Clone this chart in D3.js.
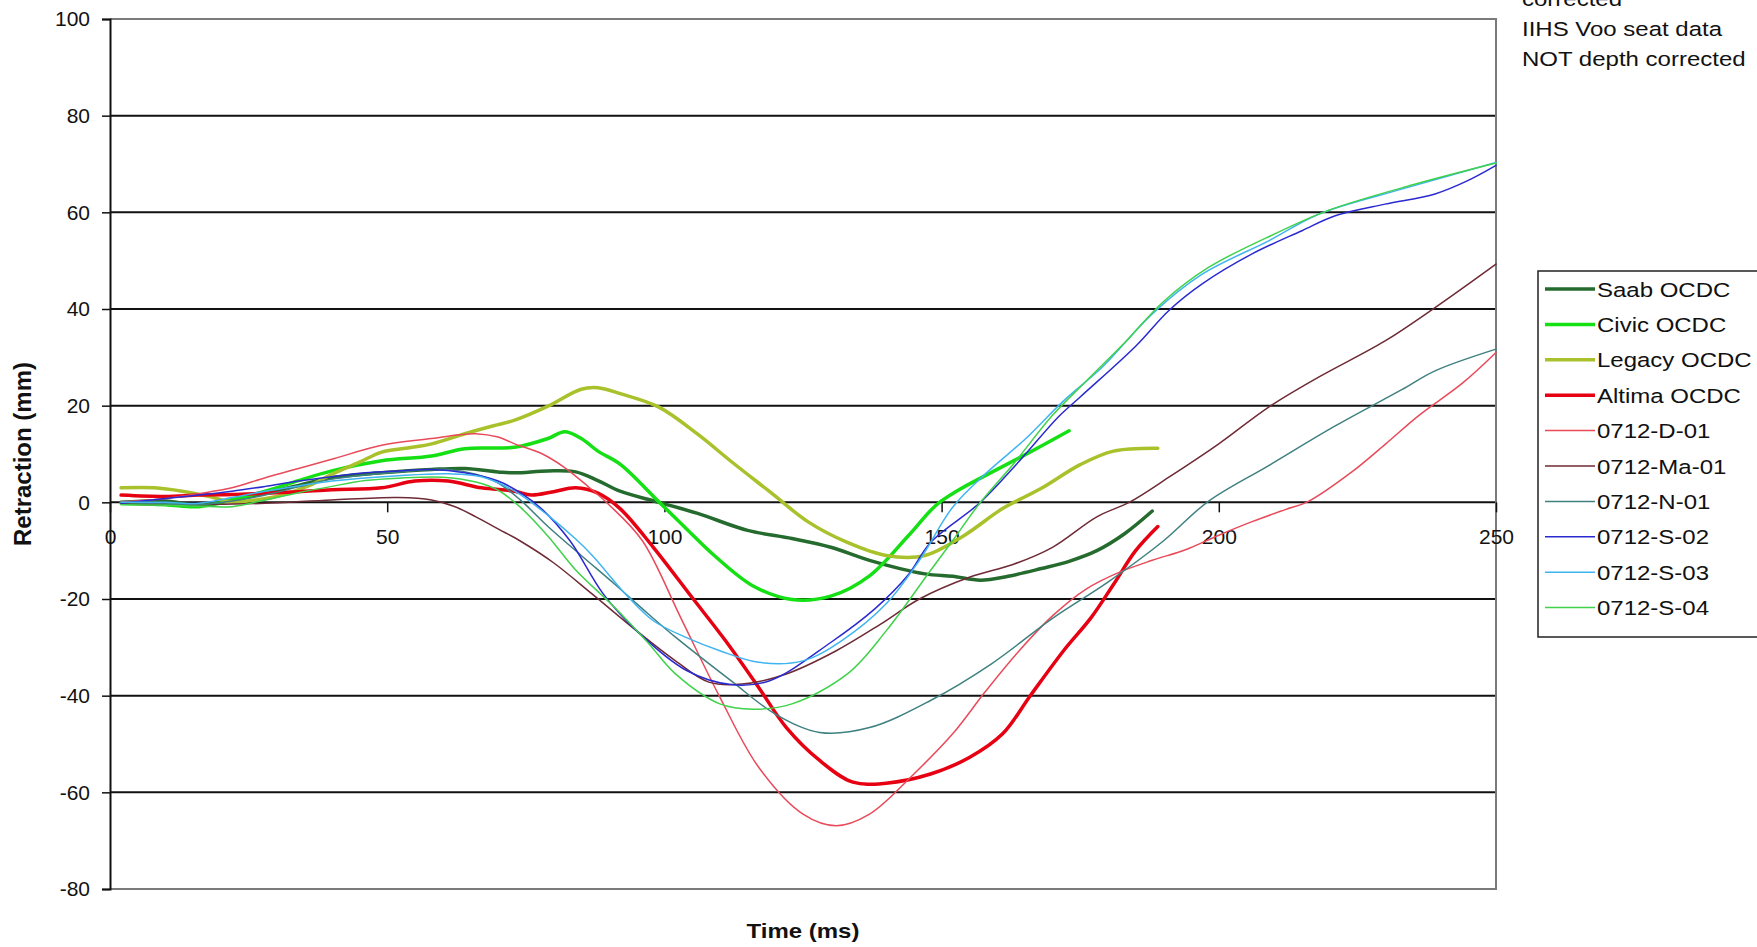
<!DOCTYPE html>
<html>
<head>
<meta charset="utf-8">
<script src="https://cdn.jsdelivr.net/npm/d3@7"></script>
<style>
  body { margin: 0; background: #fff; overflow: hidden; }
  text { font-family: "Liberation Sans", Arial, sans-serif; fill: #111; }
</style>
</head>
<body>
<script>
// ---- data: [time (ms), retraction (mm)] ----
var saabOCDC = [[2,0],[10,0.3],[16,-0.6],[22,0.5],[28,1.9],[34,3.5],[40,5.1],[49,6.1],[58,6.8],[64,7.0],[70,6.3],[73,6.1],[79,6.5],[84,6.3],[88,4.5],[92,2.3],[99,0],[106,-2.3],[115,-5.8],[123,-7.5],[130,-9.3],[137,-12],[147,-14.8],[152,-15.3],[157,-16.1],[162,-15.3],[168,-13.7],[173,-12.2],[178,-10],[183,-6.5],[188,-1.8]];
var civicOCDC = [[2,-0.2],[10,-0.5],[16,-0.9],[22,0.5],[28,2.3],[34,4.5],[40,6.5],[49,8.6],[58,9.6],[64,11.1],[73,11.4],[79,13.2],[82,14.6],[85,13.2],[88,10.6],[92,7.9],[99,0.1],[104,-5.5],[109,-11],[116,-17.3],[123,-20.1],[130,-19.4],[137,-15.2],[144,-6.9],[149,-0.6],[153,2.5],[157,5.0],[164,9.2],[173,14.8]];
var legacyOCDC = [[2,3.0],[8,3.0],[13,2.3],[18,1.2],[22,0.1],[27,0.6],[31,1.5],[36,3.5],[40,5.8],[45,8.3],[49,10.4],[54,11.3],[58,12.1],[64,14.2],[69,15.8],[73,17.0],[79,19.9],[85,23.4],[88,23.7],[92,22.5],[99,19.7],[106,14.1],[112,8.5],[119,2.2],[126,-4.1],[133,-8.3],[140,-11],[147,-11],[154,-6.9],[161,-1.3],[168,2.9],[175,7.8],[181,10.6],[189,11.2]];
var altimaOCDC = [[2,1.5],[10,1.2],[16,1.5],[22,1.6],[28,1.9],[34,2.2],[40,2.6],[49,3.0],[55,4.4],[61,4.4],[67,3.0],[73,2.3],[76,1.5],[80,2.2],[84,3.0],[88,1.9],[92,-1.3],[98,-9.3],[105,-19.7],[111,-28.6],[117,-38.3],[122,-46.6],[128,-53.4],[134,-57.9],[140,-58.1],[148,-56.2],[155,-52.8],[161,-47.9],[166,-40],[172,-30.7],[177,-23.8],[181,-17],[185,-10],[189,-5]];
var d01 = [[2,0.1],[10,0.8],[16,1.8],[22,3.0],[28,5.1],[34,7.0],[40,8.9],[49,11.8],[58,13.2],[63,14.0],[66,14.2],[70,13.5],[73,12.1],[78,10],[82,7.2],[86,3.5],[90,-0.5],[96,-7.9],[103,-24],[110,-40.3],[117,-54.8],[125,-64.5],[131,-66.9],[137,-64.5],[145,-56.2],[152,-47.9],[158,-39],[164,-30.7],[170,-23.5],[176,-18],[182,-14.5],[188,-12],[194,-9.8],[200,-6.8],[206,-4],[212,-1.5],[216,0.1],[224,6.3],[230,12],[236,17.9],[244,24.7],[250,31]];
var ma01 = [[2,-0.3],[10,-0.6],[20,-0.4],[28,-0.2],[40,0.5],[52,1.0],[58,0.5],[62,-0.8],[66,-3],[70,-5.5],[74,-8],[80,-12.5],[87,-19],[95,-26.6],[102,-32.8],[108,-37.2],[114,-37.6],[122,-35.5],[131,-30.7],[139,-25.2],[146,-20],[155,-15.5],[163,-12.8],[170,-9.3],[178,-3],[184,0.1],[191,5.2],[200,12.1],[209,19.7],[218,25.9],[230,33.4],[239,40.3],[250,49.3]];
var n01 = [[2,0],[10,-0.3],[16,-0.5],[22,0.3],[28,1.5],[34,3.2],[40,4.8],[52,6.3],[61,6.8],[66,5.8],[70,4],[74,0.5],[79,-5],[85,-11],[91,-16.9],[97,-23],[102,-27.9],[112,-36.9],[120,-43.8],[128,-47.6],[137,-46.6],[148,-41],[159,-33.4],[170,-24],[180,-16.5],[190,-8],[198,0.1],[209,7.6],[221,15.8],[233,23.3],[239,27.2],[250,31.7]];
var s02 = [[2,-0.2],[10,0.8],[16,1.5],[22,2.3],[28,3.3],[34,4.4],[40,5.3],[46,6.1],[52,6.5],[58,6.8],[64,6.1],[70,4.4],[74,2],[78,-1.5],[83,-8],[89,-19],[95,-26.6],[104,-34.8],[112,-37.7],[119,-36.9],[130,-29],[138,-22],[144,-15],[148,-8.3],[157,0],[164,8.5],[171,17.6],[175,21.8],[185,32.3],[191,39.7],[197,45.2],[206,51.4],[215,56.2],[221,59.3],[230,61.7],[239,63.8],[245,66.6],[250,69.7]];
var s03 = [[2,0],[10,0],[16,-0.2],[22,1],[28,2.3],[34,3.4],[40,4.4],[52,5.5],[61,5.9],[67,5.3],[73,2.3],[79,-2.7],[84,-7.6],[87,-11],[93,-19],[98,-24.5],[104,-28],[110,-30.7],[117,-33.1],[125,-32.8],[132,-28.6],[140,-21],[146,-12],[152,-1],[158,6],[165,13],[172,21],[179,28],[188,39],[197,47.2],[209,54.1],[218,59.6],[233,64.8],[250,70.3]];
var s04 = [[2,-0.5],[10,-0.6],[16,-0.8],[22,-0.9],[28,0.5],[34,2],[40,3.3],[46,4.5],[52,5],[60,5.2],[66,4.2],[70,2.5],[74,-1],[79,-7],[84,-14],[91,-21.7],[97,-29],[102,-35.5],[110,-41.7],[116,-42.8],[123,-41.7],[133,-35.5],[140,-26.6],[148,-14.1],[152,-7.9],[157,0],[163,8],[170,18],[176,25],[183,33],[190,41.5],[198,48.5],[210,55.5],[220,60.5],[235,65.7],[250,70.2]];

var seriesNames = ["Saab OCDC", "Civic OCDC", "Legacy OCDC", "Altima OCDC", "0712-D-01",
                   "0712-Ma-01", "0712-N-01", "0712-S-02", "0712-S-03", "0712-S-04"];
var seriesData = [saabOCDC, civicOCDC, legacyOCDC, altimaOCDC, d01, ma01, n01, s02, s03, s04];
var xTicks = [0, 50, 100, 150, 200, 250];
var yTicks = [-80, -60, -40, -20, 0, 20, 40, 60, 80, 100];
var noteLines = ["corrected", "IIHS Voo seat data", "NOT depth corrected"];

// styles per series
var colors = ["#256b2e", "#14e014", "#a9c12a", "#e60012", "#e84a5a",
              "#6e2a35", "#3f8080", "#2a2ad0", "#3fb4f0", "#3fd24a"];
var widths = [3.5, 3.5, 3.5, 3.5, 1.5, 1.5, 1.5, 1.5, 1.5, 1.5];

var svgWidth = 1757;
var svgHeight = 947;
var margin = {top: 19, right: 261, bottom: 58, left: 110};
var width = svgWidth - margin.left - margin.right;
var height = svgHeight - margin.top - margin.bottom;

var svg = d3.select("body")
  .append("svg")
  .attr("width", svgWidth)
  .attr("height", svgHeight);

var chartGroup = svg.append("g")
  .attr("transform", `translate(${margin.left}, ${margin.top})`);

var xScale = d3.scaleLinear().domain([0, 250]).range([0, width]);
var yScale = d3.scaleLinear().domain([-80, 100]).range([height, 0]);

// horizontal text in the picture is a bit squashed vertically
function flatText(g, x, y, str, size, bold, anchor) {
  return g.append("text")
    .attr("transform", `translate(${x},${y}) scale(1,0.87)`)
    .attr("font-size", size + "px")
    .attr("font-weight", bold ? "bold" : "normal")
    .attr("text-anchor", anchor || "start")
    .text(str);
}

// gridlines
chartGroup.selectAll(".grid")
  .data(yTicks.filter(d => d > -80 && d < 100))
  .enter()
  .append("line")
  .attr("x1", 0)
  .attr("x2", width)
  .attr("y1", d => yScale(d))
  .attr("y2", d => yScale(d))
  .attr("stroke", "#111")
  .attr("stroke-width", 2);

// plot border (top, right, bottom in grey)
chartGroup.append("path")
  .attr("d", `M0,${yScale(100)}H${width}V${yScale(-80)}H0`)
  .attr("fill", "none")
  .attr("stroke", "#7a7a7a")
  .attr("stroke-width", 2);

// y axis (plain hyphen for negatives, like the original)
var leftAxis = d3.axisLeft(yScale).tickValues(yTicks).tickSize(8).tickPadding(12)
  .tickFormat(d => String(d));
var yAxis = chartGroup.append("g").call(leftAxis);
yAxis.select(".domain").attr("stroke", "#111").attr("stroke-width", 2);
yAxis.selectAll(".tick line").attr("stroke", "#111").attr("stroke-width", 1.5);
yAxis.selectAll("text")
  .attr("font-size", "21px")
  .attr("font-family", "Liberation Sans, Arial, sans-serif")
  .attr("fill", "#222");

// x axis sits on the zero line
var bottomAxis = d3.axisBottom(xScale).tickValues(xTicks).tickSize(10).tickPadding(17)
  .tickFormat(d => String(d));
var xAxis = chartGroup.append("g")
  .attr("transform", `translate(0, ${yScale(0)})`)
  .call(bottomAxis);
xAxis.select(".domain").remove();
xAxis.selectAll(".tick line").attr("stroke", "#111").attr("stroke-width", 1.5);
xAxis.selectAll("text")
  .attr("font-size", "21px")
  .attr("font-family", "Liberation Sans, Arial, sans-serif")
  .attr("fill", "#222");

// series lines
var line = d3.line()
  .x(d => xScale(d[0]))
  .y(d => yScale(d[1]))
  .curve(d3.curveCatmullRom.alpha(0.5));

chartGroup.selectAll(".series")
  .data(seriesData)
  .enter()
  .append("path")
  .attr("d", d => line(d))
  .attr("fill", "none")
  .attr("stroke", (d, i) => colors[i])
  .attr("stroke-width", (d, i) => widths[i])
  .attr("stroke-linejoin", "round")
  .attr("stroke-linecap", "round");

// axis titles
flatText(svg, margin.left + width / 2, 938, "Time (ms)", 24, true, "middle");
svg.append("text")
  .attr("transform", `translate(31, ${margin.top + height / 2}) rotate(-90)`)
  .attr("font-size", "24px")
  .attr("font-weight", "bold")
  .attr("text-anchor", "middle")
  .text("Retraction (mm)");

// note in the top right corner (first line runs off the top, as in the original)
noteLines.forEach(function (t, i) {
  flatText(svg, 1522, 6 + i * 30, t, 24, false, "start");
});

// legend
var legend = svg.append("g");
legend.append("rect")
  .attr("x", 1538)
  .attr("y", 271)
  .attr("width", 260)
  .attr("height", 366)
  .attr("fill", "#fff")
  .attr("stroke", "#222")
  .attr("stroke-width", 1.5);

seriesNames.forEach(function (name, i) {
  var cy = 289 + i * 35.4;
  legend.append("line")
    .attr("x1", 1545).attr("x2", 1595)
    .attr("y1", cy).attr("y2", cy)
    .attr("stroke", colors[i])
    .attr("stroke-width", widths[i]);
  flatText(legend, 1597, cy + 7.5, name, 24, false, "start");
});
</script>
</body>
</html>
